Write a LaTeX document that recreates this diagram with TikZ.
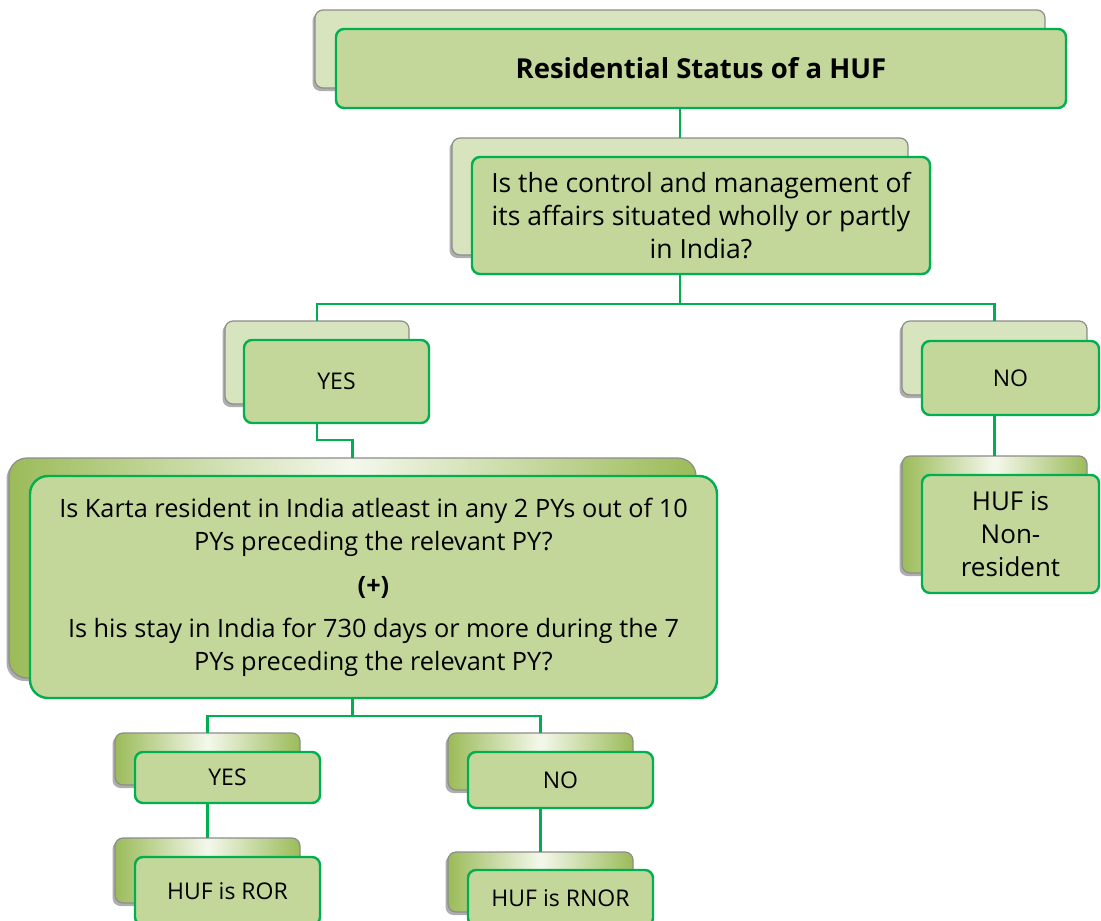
\documentclass[tikz,border=0pt]{standalone}
\usepackage{fontspec}
\setmainfont{Open Sans}
\usetikzlibrary{shadows,calc}
\definecolor{frontfill}{HTML}{C4D79B}
\definecolor{frontline}{HTML}{00B050}
\definecolor{backfill}{HTML}{D7E4BD}
\definecolor{backline}{HTML}{8C8C8C}
\definecolor{olivec}{HTML}{9BBB59}
\definecolor{palec}{HTML}{F4F8EC}
\tikzset{
 box/.style={rectangle, inner sep=0pt, outer sep=0pt, anchor=north west},
 front/.style={box, fill=frontfill, draw=frontline, line width=2.4pt, rounded corners=8pt, align=center, font=\fontsize{23}{32}\selectfont},
 back/.style={box, fill=backfill, draw=backline, line width=1.2pt, rounded corners=8pt,
   drop shadow={shadow xshift=-2.5pt, shadow yshift=-3pt, opacity=0.45, fill=black!70}},
 backg/.style={back, left color=olivec, right color=olivec, middle color=palec},
 conn/.style={draw=frontline, line width=2.2pt},
}
\begin{document}
\begin{tikzpicture}[x=1pt,y=-1pt]
\useasboundingbox (0,0) rectangle (1101,921);
\clip (0,0) rectangle (1101,921);
% top
\node[back, minimum width=730pt, minimum height=78pt] (topB) at (315,10) {};
\node[front, minimum width=730pt, minimum height=79pt, font=\fontsize{27.5}{33}\selectfont\bfseries] (top) at (336,29) {Residential Status of a HUF};
% q1
\node[back, minimum width=456pt, minimum height=117pt] (q1B) at (452,138) {};
\node[front, minimum width=458pt, minimum height=117pt, font=\fontsize{26.5}{33}\selectfont] (q1) at (472,157) {Is the control and management of\\its affairs situated wholly or partly\\in India?};
% yes1 / no1
\node[back, minimum width=184pt, minimum height=83pt] (yes1B) at (225,321) {};
\node[front, minimum width=185pt, minimum height=83pt] (yes1) at (244,340) {YES};
\node[back, minimum width=185pt, minimum height=74pt] (no1B) at (902,321) {};
\node[front, minimum width=177pt, minimum height=74pt] (no1) at (922,341) {NO};
% karta
\node[backg, minimum width=687pt, minimum height=220pt, rounded corners=18pt] (kartaB) at (9,458) {};
\node[front, minimum width=687pt, minimum height=222pt, rounded corners=18pt, font=\fontsize{25.3}{33}\selectfont] (karta) at (30,476) {\rule{0pt}{8pt}Is Karta resident in India atleast in any 2 PYs out of 10\\PYs preceding the relevant PY?\\[11pt]\textbf{(+)}\\[10pt]Is his stay in India for 730 days or more during the 7\\PYs preceding the relevant PY?};
% non-resident
\node[backg, minimum width=185pt, minimum height=117pt] (nrB) at (902,456) {};
\node[front, minimum width=177pt, minimum height=118pt, font=\fontsize{26}{33}\selectfont] (nr) at (922,475) {HUF is\\Non-\\resident};
% yes2 / no2
\node[backg, minimum width=185pt, minimum height=52pt] (yes2B) at (115,733) {};
\node[front, minimum width=185pt, minimum height=51pt] (yes2) at (135,752) {YES};
\node[backg, minimum width=185pt, minimum height=57pt] (no2B) at (448,733) {};
\node[front, minimum width=185pt, minimum height=56pt] (no2) at (468,752) {NO};
% ror / rnor
\node[backg, minimum width=185pt, minimum height=65pt] (rorB) at (115,838) {};
\node[front, minimum width=185pt, minimum height=68pt] (ror) at (135,857) {HUF is ROR};
\node[backg, minimum width=185pt, minimum height=60pt] (rnorB) at (448,852) {};
\node[front, minimum width=185pt, minimum height=56pt] (rnor) at (468,870) {HUF is RNOR};
% connectors
\coordinate (j1) at (q1B.center |- 0,304);
\coordinate (j2) at (yes1B.center |- 0,440);
\coordinate (j3) at (kartaB.center |- 0,716);
\draw[conn] (topB.center |- top.south) -- (q1B.north);
\draw[conn] (q1B.center |- q1.south) -- (j1) -| (yes1B.north);
\draw[conn] (j1) -| (no1B.north);
\draw[conn] (yes1B.center |- yes1.south) -- (j2) -| (kartaB.north);
\draw[conn] (no1B.center |- no1.south) -- (nrB.north);
\draw[conn] (kartaB.center |- karta.south) -- (j3) -| (yes2B.north);
\draw[conn] (j3) -| (no2B.north);
\draw[conn] (yes2B.center |- yes2.south) -- (rorB.north);
\draw[conn] (no2B.center |- no2.south) -- (rnorB.north);
\end{tikzpicture}
\end{document}
